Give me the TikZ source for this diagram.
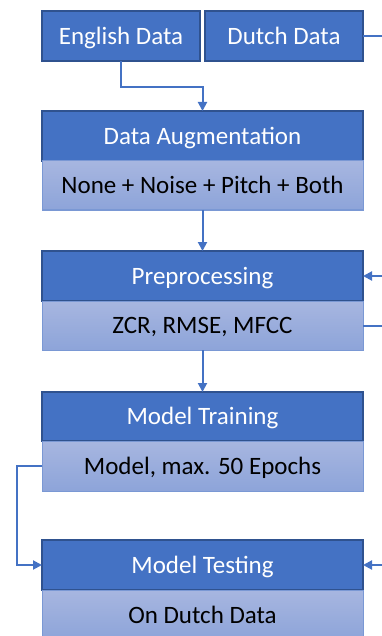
\documentclass[tikz,border=0pt]{standalone}
\usepackage{fontspec}
\setmainfont{Carlito}
\usetikzlibrary{arrows.meta}
\definecolor{hdr}{HTML}{4472C4}
\definecolor{hdrline}{HTML}{2F528F}
\definecolor{subtop}{HTML}{A7B6E0}
\definecolor{subbot}{HTML}{8DA4D9}
\definecolor{subline}{HTML}{7A98D4}
\definecolor{conn}{HTML}{4472C4}
\begin{document}
\begin{tikzpicture}[x=1pt,y=-1pt,
  box/.style={rectangle, inner sep=0pt, outer sep=0pt, text height=20.5pt, text depth=4pt, font=\fontsize{25}{30}\selectfont},
  head/.style={box, fill=hdr, draw=hdrline, line width=1.2pt, text=white, minimum width=321pt},
  small/.style={box, fill=hdr, draw=hdrline, line width=1.2pt, text=white, minimum width=158pt, minimum height=50pt},
  sub/.style={box, top color=subtop, bottom color=subbot, draw=subline, line width=1pt, text=black, minimum width=321pt},
  link/.style={draw=conn, line width=2pt},
  arr/.style={link, -{Triangle[length=9pt,width=9pt]}}]
\useasboundingbox (0,0) rectangle (382,636);
\begin{scope}
\clip (0,0) rectangle (382,636);
\node[small] (eng) at (121,36) {English Data};
\node[small] (dut) at (284,36) {Dutch Data};
\node[head, minimum height=50pt] (dah) at (202.5,136) {Data Augmentation};
\node[sub, minimum height=49pt] (das) at (202.5,185.5) {None + Noise + Pitch + Both};
\node[head, minimum height=50pt] (preh) at (202.5,276) {Preprocessing};
\node[sub, minimum height=49pt] (pres) at (202.5,325.5) {ZCR, RMSE, MFCC};
\node[head, minimum height=49pt] (mth) at (202.5,416.5) {Model Training};
\node[sub, minimum height=50pt] (mts) at (202.5,466) {Model, max. 50 Epochs};
\node[head, minimum height=50pt] (teh) at (202.5,565) {Model Testing};
\node[sub, minimum height=50pt] (tes) at (202.5,615) {On Dutch Data};
\coordinate (r1) at (384,36);
\coordinate (r2) at (384,276);
\coordinate (r3) at (384,325.5);
\coordinate (r4) at (384,565);
\draw[arr] (eng.south) -- ++(0,26) -| (dah.north);
\draw[arr] (das.south) -- (preh.north);
\draw[arr] (pres.south) -- (mth.north);
\draw[arr] (mts.west) -- ++(-25,0) |- (teh.west);
\draw[link] (dut.east) -- (r1);
\draw[arr] (r2) -- (preh.east);
\draw[link] (pres.east) -- (r3);
\draw[arr] (r4) -- (teh.east);
\end{scope}
\end{tikzpicture}
\end{document}
